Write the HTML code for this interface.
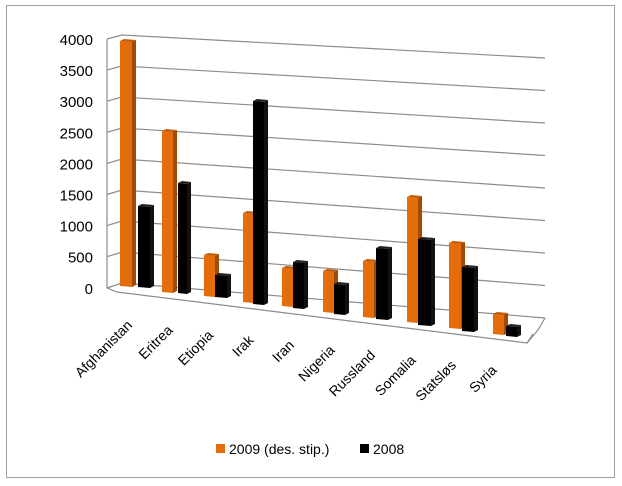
<!DOCTYPE html>
<html><head><meta charset="utf-8"><style>
body{margin:0;background:#fff}
svg{display:block;font-family:"Liberation Sans",sans-serif}
</style></head><body>
<svg id="s" width="622" height="486" xmlns="http://www.w3.org/2000/svg">
<rect x="6.5" y="5.5" width="608" height="472" fill="#fff" stroke="#a0a0a0"/>
<g id="grid" stroke="#8c8c8c" stroke-width="1.2" fill="none"></g>
<g id="bars"></g>
<g font-size="15" fill="#000" text-anchor="end" id="yl"></g>
<g font-size="14" fill="#000" text-anchor="end" id="xl"></g>
<rect x="216" y="444" width="9" height="9" fill="#e46c0a"/>
<text x="229" y="454" font-size="14">2009 (des. stip.)</text>
<rect x="360" y="444" width="9" height="9" fill="#000"/>
<text x="373" y="454" font-size="14">2008</text>
</svg>
<script>
var NS="http://www.w3.org/2000/svg";
function el(p,t,a,txt){var e=document.createElementNS(NS,t);for(var k in a)e.setAttribute(k,a[k]);if(txt)e.textContent=txt;document.getElementById(p).appendChild(e);}
// gridlines
for(var i=0;i<=8;i++){
 var ly=39+i*31.1, by=35+i*31, ry=58+i*32.5;
 if(i<8){el("grid","polyline",{points:"107,"+ly+" 122,"+by+" 545,"+ry});}
 el("yl","text",{x:93,y:ly+6},String(4000-i*500));
}
el("grid","polyline",{points:"107,39 107,288 117,292 527,343 538,330 545,318"});
el("grid","polyline",{points:"107,288 122,283 545,318"});
el("grid","line",{x1:527,y1:343,x2:533,y2:334});
function bar(x1,x2,top,bot,c,s,t){
 var w=x2-x1, d=4;
 el("bars","polygon",{points:(x2-d)+","+(top+2)+" "+x2+","+top+" "+x2+","+(bot-2)+" "+(x2-d)+","+bot,fill:s});
 el("bars","polygon",{points:x1+","+(top+1)+" "+(x1+d)+","+(top-1)+" "+x2+","+top+" "+(x2-d)+","+(top+2),fill:t});
 el("bars","polygon",{points:x1+","+(top+1)+" "+(x2-d)+","+(top+2)+" "+(x2-d)+","+bot+" "+x1+","+(bot-1),fill:c});
}
var O="#e46c0a",OS="#a04c06",OT="#c05a08",K="#000",KS="#111",KT="#222";
var data=[
[120,136,40,287,138,154,205,288],
[162,177,130,293,178,191,182,294],
[204,219,254,297,215,231,274,298],
[243,257,212,303,253,268,100,305],
[282,297,267,307,293,308,261,309],
[323,338,270,313,334,349,283,315],
[363,378,260,318,376,392,247,320],
[407,422,196,323,418,435,238,326],
[449,465,242,329,462,478,266,332],
[493,508,313,335,506,521,325,337]];
data.forEach(function(b){bar(b[0],b[1],b[2],b[3],O,OS,OT);bar(b[4],b[5],b[6],b[7],K,KS,KT);});
var names=["Afghanistan","Eritrea","Etiopia","Irak","Iran","Nigeria","Russland","Somalia","Statsløs","Syria"];
names.forEach(function(n,i){var x=133+40.5*i,y=326+5*i;el("xl","text",{x:x,y:y,transform:"rotate(-45 "+x+" "+y+")"},n);});
</script>
</body></html>
